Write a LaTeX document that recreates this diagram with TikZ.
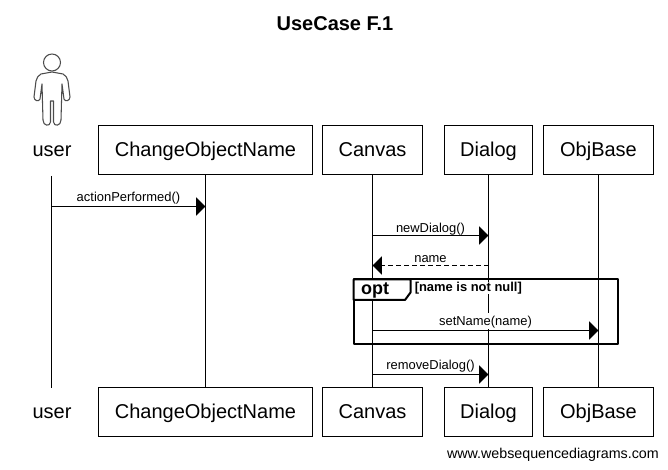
\documentclass[tikz,border=0pt]{standalone}
\usepackage{fontspec}
\setmainfont{Liberation Sans}
\usetikzlibrary{arrows.meta}
\tikzstyle{objbox}=[draw=black,fill=white,line width=0.75pt,minimum height=36.75pt,inner sep=0pt,text height=13pt,text depth=3pt,font=\fontsize{15}{18}\selectfont]
\tikzstyle{actorname}=[inner sep=0pt,text height=13pt,text depth=3pt,font=\fontsize{15}{18}\selectfont]
\tikzstyle{lifeline}=[black,line width=0.75pt]
\tikzstyle{msg}=[black,line width=0.75pt,-{Triangle[length=7pt,width=13.5pt]}]
\tikzstyle{msglabel}=[fill=white,inner xsep=0.5pt,inner ysep=0pt,text height=9.5pt,text depth=2pt,font=\fontsize{9.7}{11}\selectfont]
\tikzstyle{frameline}=[black,line width=1.5pt,line join=round]

\begin{document}
\begin{tikzpicture}[x=0.75pt,y=-0.75pt]
          \useasboundingbox (0,0) rectangle (668,470);
          \node[font=\bfseries\fontsize{15}{18}\selectfont] (title) at (335,24) {UseCase F.1};
          % top row
          \node[actorname] (user) at (52,150) {user};
          \node[objbox,minimum width=160.5pt] (change) at (205.5,150) {ChangeObjectName};
          \node[objbox,minimum width=75pt] (canvas) at (372.5,150) {Canvas};
          \node[objbox,minimum width=66pt] (dialog) at (488.5,150) {Dialog};
          \node[objbox,minimum width=82.5pt] (objbase) at (598.5,150) {ObjBase};
          % bottom row
          \node[actorname] (userb) at (52,412) {user};
          \node[objbox,minimum width=160.5pt] (changeb) at (205.5,412) {ChangeObjectName};
          \node[objbox,minimum width=75pt] (canvasb) at (372.5,412) {Canvas};
          \node[objbox,minimum width=66pt] (dialogb) at (488.5,412) {Dialog};
          \node[objbox,minimum width=82.5pt] (objbaseb) at (598.5,412) {ObjBase};
          % lifelines
          \coordinate (usertop) at (51.5,176);
          \coordinate (userbot) at (51.5,388);
          \draw[lifeline] (usertop) -- (userbot);
          \draw[lifeline] (change) -- (changeb);
          \draw[lifeline] (canvas) -- (canvasb);
          \draw[lifeline] (dialog) -- (dialogb);
          \draw[lifeline] (objbase) -- (objbaseb);
          % the little man
          \draw[black!70,line width=0.8pt] (52,62.5) circle (8.5);
          \draw[black!70,line width=0.8pt,line join=round] (52,72) -- (41,74) .. controls (38,75) and (37,78) .. (36,81) -- (34,97)
            .. controls (34,101) and (39,102) .. (40,99) -- (42,84) -- (43,120) .. controls (43,126) and (50,127) .. (50.5,122) -- (50.5,101)
            -- (53.5,101) -- (53.5,122) .. controls (54,127) and (61,126) .. (61,120) -- (62,84) -- (64,99)
            .. controls (65,102) and (70,101) .. (70,97) -- (68,81) .. controls (67,78) and (66,75) .. (63,74) -- cycle;
          % messages
          \coordinate (m1a) at (51.5,206.5);
          \coordinate (m1b) at (205.5,206.5);
          \draw[msg] (m1a) -- node[msglabel,above=1pt] (m1text) {actionPerformed()} (m1b);
          \coordinate (m2a) at (372.5,235.5);
          \coordinate (m2b) at (488.5,235.5);
          \draw[msg] (m2a) -- node[msglabel,above=0pt] (m2text) {newDialog()} (m2b);
          \coordinate (m3a) at (488.5,265.5);
          \coordinate (m3b) at (372.5,265.5);
          \draw[msg,dash pattern=on 3.75pt off 2.25pt] (m3a) -- node[msglabel,above=0pt] (m3text) {name} (m3b);
          \coordinate (m4a) at (372.5,330.5);
          \coordinate (m4b) at (598.5,330.5);
          \draw[msg] (m4a) -- node[msglabel,above=1pt] (m4text) {setName(name)} (m4b);
          \coordinate (m5a) at (372.5,374.5);
          \coordinate (m5b) at (488.5,374.5);
          \draw[msg] (m5a) -- node[msglabel,above=1pt] (m5text) {removeDialog()} (m5b);
          % opt frame
          \coordinate (optnw) at (353.5,279.5);
          \coordinate (optse) at (618,344);
          \draw[frameline] (optnw) rectangle (optse);
          \node[inner sep=0pt,fill=white,anchor=north west,font=\bfseries\fontsize{9.7}{11}\selectfont] (optcond) at (414.5,282) {[name is not null]};
          \draw[frameline,fill=white] (optnw) -- (410.5,279.5) -- (410.5,292.5) -- (405,300) -- (353.5,300) -- cycle;
          \node[font=\bfseries\fontsize{13.5}{15}\selectfont] (opttext) at (375,290) {opt};
          \node[anchor=east,inner sep=0pt,font=\fontsize{10.7}{12}\selectfont] (site) at (659,455) {www.websequencediagrams.com};
\end{tikzpicture}
\end{document}
